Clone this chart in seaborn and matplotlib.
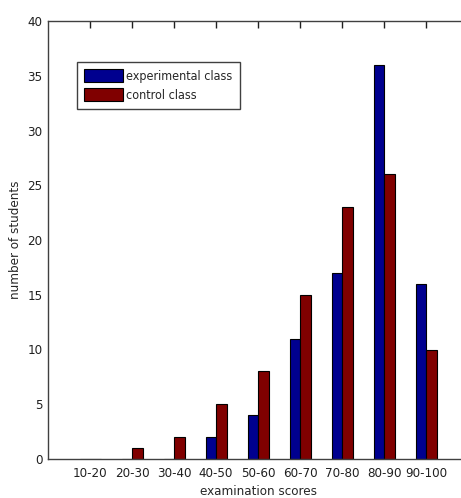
import matplotlib
matplotlib.use('Agg')
import matplotlib.pyplot as plt
import seaborn as sns
import pandas as pd

# data
score_bins = ['10-20', '20-30', '30-40', '40-50', '50-60', '60-70', '70-80', '80-90', '90-100']
experimental = [0, 0, 0, 2, 4, 11, 17, 36, 16]
control = [0, 1, 2, 5, 8, 15, 23, 26, 10]
classes = ['experimental class', 'control class']
colors = ['#00008F', '#800000']
y_ticks = [0, 5, 10, 15, 20, 25, 30, 35, 40]

df = pd.DataFrame({
    'scores': score_bins * 2,
    'students': experimental + control,
    'group': [classes[0]] * len(score_bins) + [classes[1]] * len(score_bins),
})

sns.set_style('white')
plt.rcParams['font.family'] = ['DejaVu Sans']
plt.rcParams['font.stretch'] = 'condensed'

fig = plt.figure(figsize=(4.61, 4.98), dpi=100)
ax = fig.add_axes([48 / 461, 39 / 498, 420 / 461, 438 / 498])

sns.barplot(data=df, x='scores', y='students', hue='group', hue_order=classes,
            palette=colors, width=0.5, edgecolor='black', linewidth=0.8,
            saturation=1, ax=ax, legend=True)

ax.set_xlim(-1, 9)
ax.set_ylim(0, 40)
ax.set_yticks(y_ticks)
ax.set_xlabel('examination scores', fontsize=9.5, labelpad=3)
ax.set_ylabel('number of students', fontsize=9.5, labelpad=4)

for side in ['left', 'bottom', 'top']:
    ax.spines[side].set_color('#404040')
    ax.spines[side].set_linewidth(1.0)
ax.spines['right'].set_visible(False)
ax.tick_params(axis='both', direction='in', length=5, width=1, color='#202020',
               labelsize=9.5, top=True, labelcolor='#202020')
ax.tick_params(axis='y', right=False, pad=4)
ax.tick_params(axis='x', pad=6)

leg = ax.legend(loc='upper left', bbox_to_anchor=(29 / 420, 1 - 41 / 438),
                fancybox=False, framealpha=1, edgecolor='#404040', fontsize=9,
                handlelength=3.1, handleheight=1.2, borderpad=0.55,
                labelspacing=0.45, handletextpad=0.3, borderaxespad=0)
leg.get_frame().set_linewidth(1.0)

fig.savefig('out.png', dpi=100)
